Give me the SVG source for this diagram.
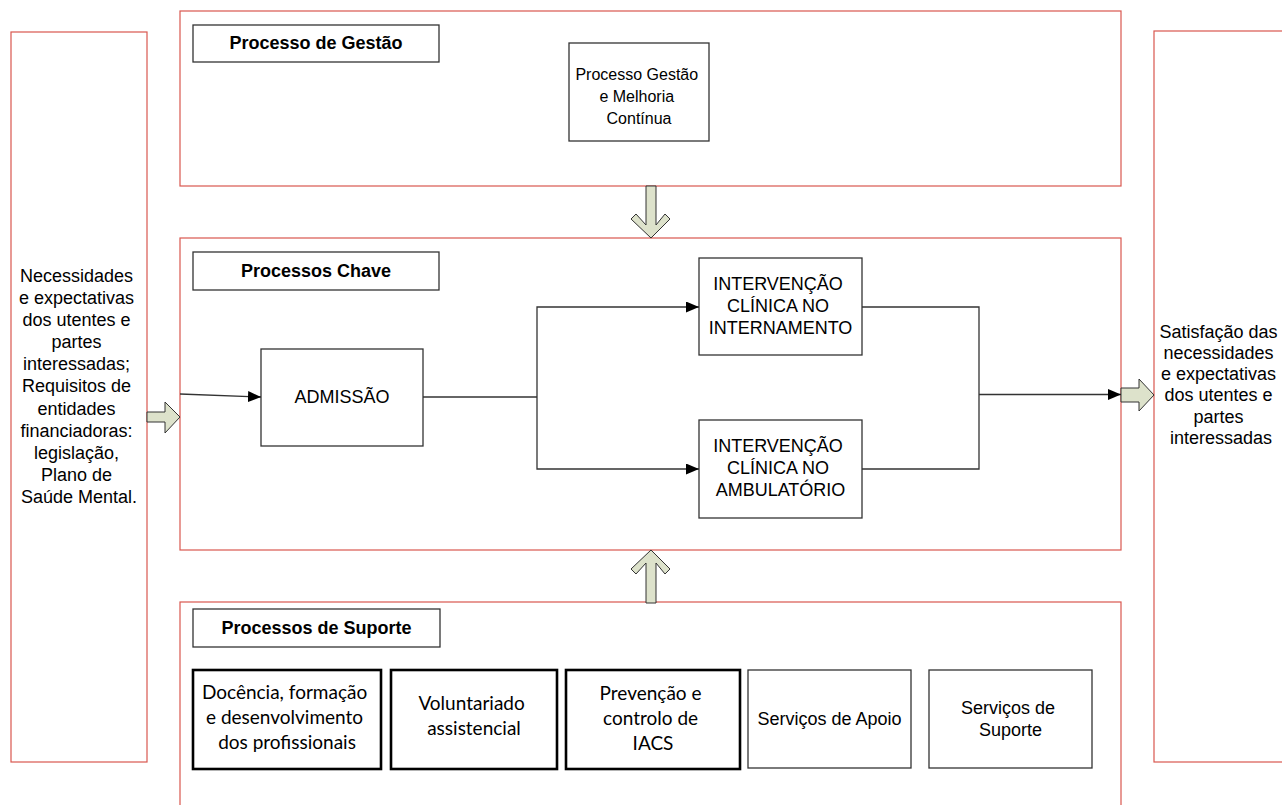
<svg xmlns="http://www.w3.org/2000/svg" width="1282" height="805" viewBox="0 0 1282 805">
<style>
.cont{fill:none;stroke:#d9574f;stroke-width:1.2}
.box{fill:#fff;stroke:#333;stroke-width:1.3}
.thick{fill:#fff;stroke:#000;stroke-width:2.6}
.blk{fill:#dde2cb;stroke:#333;stroke-width:1}
.t{font-family:"Liberation Sans",Arial,sans-serif;font-size:18px;fill:#000;text-anchor:middle}
.tb{font-family:"Liberation Sans",Arial,sans-serif;font-size:18px;font-weight:bold;fill:#000;text-anchor:middle}
.tc{font-family:Lato,"Open Sans",sans-serif;font-size:19px;fill:#000;text-anchor:middle}
.ln{fill:none;stroke:#333;stroke-width:1.3}
</style>
<defs>
<marker id="ah" markerUnits="userSpaceOnUse" markerWidth="13" markerHeight="11" refX="13" refY="5.5" orient="auto">
<path d="M0,0 L13,5.5 L0,11 z" fill="#000"/>
</marker>
</defs>
<rect width="1282" height="805" fill="#fff"/>

<g id="input">
<rect class="cont" x="11" y="32" width="136" height="730"/>
<text class="t">
<tspan x="79" y="282">Necessidades</tspan>
<tspan x="79" y="304">e expectativas</tspan>
<tspan x="79" y="326">dos utentes e</tspan>
<tspan x="79" y="348">partes</tspan>
<tspan x="79" y="370">interessadas;</tspan>
<tspan x="79" y="392">Requisitos de</tspan>
<tspan x="79" y="415">entidades</tspan>
<tspan x="79" y="437">financiadoras:</tspan>
<tspan x="79" y="459">legislação,</tspan>
<tspan x="79" y="481">Plano de</tspan>
<tspan x="79" y="503">Saúde Mental.</tspan>
</text>
</g>

<g id="output">
<rect class="cont" x="1154" y="31" width="200" height="731"/>
<text class="t">
<tspan x="1221" y="338">Satisfação das</tspan>
<tspan x="1221" y="359">necessidades</tspan>
<tspan x="1221" y="380">e expectativas</tspan>
<tspan x="1221" y="401">dos utentes e</tspan>
<tspan x="1221" y="423">partes</tspan>
<tspan x="1221" y="444">interessadas</tspan>
</text>
</g>

<g id="gestao">
<rect class="cont" x="180" y="11" width="941" height="175"/>
<rect class="box" x="193" y="25" width="246" height="37"/>
<text class="tb" x="316" y="49">Processo de Gestão</text>
</g>

<g id="melhoria">
<rect class="box" x="569" y="43" width="140" height="98"/>
<text class="t" style="font-size:16px">
<tspan x="639" y="80">Processo Gestão</tspan>
<tspan x="639" y="102">e Melhoria</tspan>
<tspan x="639" y="124">Contínua</tspan>
</text>
</g>

<g id="chave">
<rect class="cont" x="180" y="238" width="941" height="312"/>
<rect class="box" x="193" y="252" width="246" height="38"/>
<text class="tb" x="316" y="277">Processos Chave</text>
</g>

<g id="admissao">
<rect class="box" x="261" y="349" width="162" height="97"/>
<text class="t" x="342" y="403">ADMISSÃO</text>
</g>

<g id="internamento">
<rect class="box" x="699" y="258" width="163" height="97"/>
<text class="t">
<tspan x="780.5" y="290">INTERVENÇÃO</tspan>
<tspan x="780.5" y="312">CLÍNICA NO</tspan>
<tspan x="780.5" y="334">INTERNAMENTO</tspan>
</text>
</g>

<g id="ambulatorio">
<rect class="box" x="699" y="420" width="163" height="98"/>
<text class="t">
<tspan x="780.5" y="452">INTERVENÇÃO</tspan>
<tspan x="780.5" y="474">CLÍNICA NO</tspan>
<tspan x="780.5" y="496">AMBULATÓRIO</tspan>
</text>
</g>

<g id="suporte">
<rect class="cont" x="180" y="602" width="941" height="260"/>
<rect class="box" x="193" y="609" width="247" height="38"/>
<text class="tb" x="316.5" y="634">Processos de Suporte</text>
</g>

<g id="docencia">
<rect class="thick" x="193" y="670" width="188" height="99"/>
<text class="tc">
<tspan x="287" y="699">Docência, formação</tspan>
<tspan x="287" y="724">e desenvolvimento</tspan>
<tspan x="287" y="749">dos profissionais</tspan>
</text>
</g>

<g id="voluntariado">
<rect class="thick" x="391" y="670" width="166" height="99"/>
<text class="tc">
<tspan x="474" y="710">Voluntariado</tspan>
<tspan x="474" y="735">assistencial</tspan>
</text>
</g>

<g id="prevencao">
<rect class="thick" x="566" y="670" width="174" height="99"/>
<text class="tc">
<tspan x="653" y="700">Prevenção e</tspan>
<tspan x="653" y="725">controlo de</tspan>
<tspan x="653" y="750">IACS</tspan>
</text>
</g>

<g id="apoio">
<rect class="box" x="748" y="670" width="163" height="98"/>
<text class="t" x="829.5" y="725">Serviços de Apoio</text>
</g>

<g id="servsuporte">
<rect class="box" x="929" y="670" width="163" height="98"/>
<text class="t">
<tspan x="1010.5" y="714">Serviços de</tspan>
<tspan x="1010.5" y="736">Suporte</tspan>
</text>
</g>

<g id="connectors">
<polygon class="blk" points="147,412 165,412 165,402 180,417 165,433 165,422 147,422"/>
<polygon class="blk" points="1121,388 1139,388 1139,379 1154,395 1139,411 1139,402 1121,402"/>
<polygon class="blk" points="646,186 656,186 656,225 665,214 670,219 651,238 631,219 636,214 646,225"/>
<polygon class="blk" points="646,603 656,603 656,563 665,574 670,569 651,550 631,569 636,574 646,563"/>
<path class="ln" d="M180,394 L261,397" marker-end="url(#ah)"/>
<path class="ln" d="M423,397 H537"/>
<path class="ln" d="M537,397 V307 H699" marker-end="url(#ah)"/>
<path class="ln" d="M537,397 V469 H699" marker-end="url(#ah)"/>
<path class="ln" d="M862,307 H979 V469 H862"/>
<path class="ln" d="M979,394.5 H1121" marker-end="url(#ah)"/>
</g>
</svg>
